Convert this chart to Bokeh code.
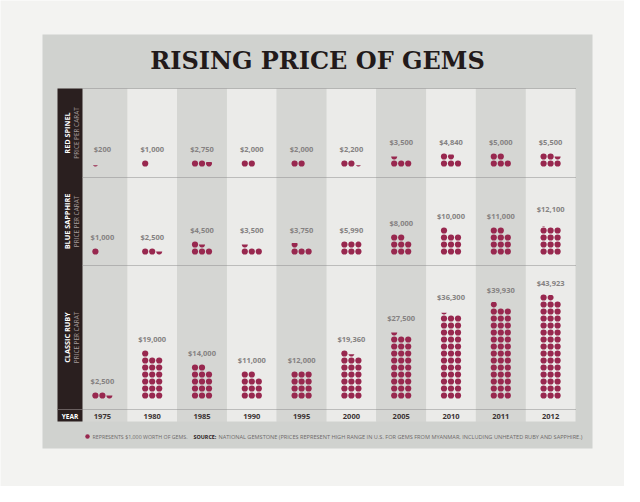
import numpy as np
from bokeh.core.properties import value
from bokeh.embed import file_html
from bokeh.models import Range1d
from bokeh.plotting import figure
from bokeh.resources import INLINE

# ------------------------------------------------------------------ data
years = ["1975", "1980", "1985", "1990", "1995", "2000", "2005", "2010", "2011", "2012"]
gems = ["RED SPINEL", "BLUE SAPPHIRE", "CLASSIC RUBY"]
red_spinel = [200, 1000, 2750, 2000, 2000, 2200, 3500, 4840, 5000, 5500]
blue_sapphire = [1000, 2500, 4500, 3500, 3750, 5990, 8000, 10000, 11000, 12100]
classic_ruby = [2500, 19000, 14000, 11000, 12000, 19360, 27500, 36300, 39930, 43923]
unit = 1000  # one dot = $1,000

# ------------------------------------------------------------------ style
RUBY = "#98284f"
PANEL = "#d0d2cf"
FONT = value("Open Sans")

# page pixel layout (y grows downwards)
col_x0, col_w = 77, 49.8
row_top = [88, 177, 265]
row_bot = [177, 265, 409]
dot_base = [163, 251, 395]
step, r = 7, 3.0

centers = [col_x0 + col_w * (i + 0.5) for i in range(len(years))]

p = figure(width=624, height=486, x_range=Range1d(0, 624), y_range=Range1d(486, 0),
           output_backend="svg", toolbar_location=None, min_border=0,
           x_axis_type=None, y_axis_type=None)
p.grid.visible = False
p.outline_line_color = None
p.background_fill_color = "#f3f3f1"
p.border_fill_color = "#f3f3f1"

# panel
p.quad(left=42, right=592, top=34, bottom=448, fill_color=PANEL, line_color=None)

# column stripes
p.quad(left=[c - col_w / 2 for c in centers], right=[c + col_w / 2 for c in centers],
       top=88, bottom=421, line_color=None,
       fill_color=["#d5d6d3" if i % 2 == 0 else "#ebebe9" for i in range(len(years))])

# black label column
p.quad(left=57, right=82, top=88, bottom=421, fill_color="#2a1f1f", line_color=None)
p.segment(x0=57, x1=82, y0=409, y1=409, line_color="#6a6060", line_width=1)

# dotted separators
for y in [88, 177, 265, 409]:
    p.line([82, 575], [y, y], line_color="#8c8c8c", line_dash="1 1", line_width=1)

# ------------------------------------------------------------------ dots
def dot_layout(values, base):
    fx, fy, pxs, pys, lx, ly, lt = [], [], [], [], [], [], []
    for v, cx in zip(values, centers):
        full, part = divmod(v, unit)
        for k in range(full):
            fx.append(cx + (k % 3 - 1) * step)
            fy.append(base - (k // 3) * step)
        n = full
        if part:
            f = part / unit
            dx = cx + (n % 3 - 1) * step
            dy = base - (n // 3) * step
            t0 = np.arccos(1 - 2 * f)
            t = np.linspace(-t0, t0, 24)
            pxs.append(list(dx + r * np.sin(t)))
            pys.append(list(dy + r * np.cos(t)))
            n += 1
        top_row = (n - 1) // 3
        lx.append(cx)
        ly.append(base - top_row * step - 15)
        lt.append("${:,}".format(v))
    return fx, fy, pxs, pys, lx, ly, lt


for i, vals in enumerate([red_spinel, blue_sapphire, classic_ruby]):
    fx, fy, pxs, pys, lx, ly, lt = dot_layout(vals, dot_base[i])
    p.scatter(fx, fy, size=6.2, fill_color=RUBY, line_color=None)
    if pxs:
        p.patches(pxs, pys, fill_color=RUBY, line_color=None)
    p.text(x=lx, y=ly, text=lt, text_font=FONT, text_font_size="7.5px",
           text_font_style="bold", text_color="#858282",
           text_align="center", text_baseline="middle")

    yc = (row_top[i] + row_bot[i]) / 2
    p.text(x=[66], y=[yc], text=[gems[i]], angle=np.pi / 2, text_font=FONT,
           text_font_size="7.3px", text_font_style="bold", text_color="white",
           text_align="center", text_baseline="middle")
    p.text(x=[75.5], y=[yc], text=["PRICE PER CARAT"], angle=np.pi / 2, text_font=FONT,
           text_font_size="6.4px", text_color="#a39a9a",
           text_align="center", text_baseline="middle")

# ------------------------------------------------------------------ texts
p.text(x=[69.5], y=[415.5], text=["YEAR"], text_font=FONT, text_font_size="6.5px",
       text_font_style="bold", text_color="white", text_align="center", text_baseline="middle")
p.text(x=centers, y=[415.5] * len(years), text=years, text_font=FONT, text_font_size="7.5px",
       text_font_style="bold", text_color="#3a3232", text_align="center", text_baseline="middle")

p.text(x=[317], y=[60], text=["RISING PRICE OF GEMS"], text_font=value("DejaVu Serif"),
       text_font_size="24px", text_font_style="bold", text_color="#221a1a",
       text_align="center", text_baseline="middle")

p.scatter([87], [436], size=4.5, fill_color=RUBY, line_color=None)
foot = dict(text_font=FONT, text_align="left", text_baseline="middle")
p.text(x=[92], y=[436.5], text=["REPRESENTS $1,000 WORTH OF GEMS."], text_font_size="5.3px",
       text_color="#6e6a6a", **foot)
p.text(x=[193], y=[436.5], text=["SOURCE:"], text_font_size="5.4px", text_font_style="bold",
       text_color="#2a2222", **foot)
p.text(x=[218], y=[436.5],
       text=["NATIONAL GEMSTONE (PRICES REPRESENT HIGH RANGE IN U.S. FOR GEMS FROM MYANMAR, "
             "INCLUDING UNHEATED RUBY AND SAPPHIRE.)"], text_font_size="5.6px",
       text_color="#6e6a6a", **foot)

open("out.html", "w").write(file_html(p, INLINE))
